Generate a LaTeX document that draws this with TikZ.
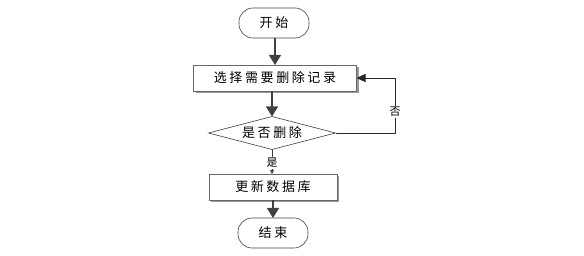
\documentclass[tikz,border=0pt]{standalone}
\usepackage{fontspec}
\newfontfamily\cjk[LetterSpace=20]{Noto Sans CJK SC}
\newfontfamily\cjksmall{Noto Sans CJK SC}
\usetikzlibrary{shapes.geometric,arrows.meta,shadows}
\begin{document}
\begin{tikzpicture}[x=1pt,y=-1pt,
  every node/.style={inner sep=0pt,outer sep=0pt},
  term/.style={draw=black!75,line width=0.6pt,rounded corners=14pt,minimum width=70pt,minimum height=30pt,font=\cjk\fontsize{13pt}{13pt}\selectfont},
  procbox/.style={draw=black!60,line width=0.6pt,fill=white,minimum height=26pt,font=\cjk\fontsize{13pt}{13pt}\selectfont,
    drop shadow={shadow xshift=2pt,shadow yshift=-2pt,fill=black!40,opacity=1}},
  decbox/.style={draw=black!75,line width=0.6pt,diamond,aspect=3.9,minimum width=127pt,minimum height=33pt,font=\cjk\fontsize{13pt}{13pt}\selectfont},
  bigarrow/.style={draw=black!75,line width=1.5pt,-{Triangle[length=10pt,width=12pt]}},
  thinarrow/.style={draw=black!75,line width=0.6pt,-{Triangle[length=4pt,width=4pt]}},
  backarrow/.style={draw=black!85,line width=0.8pt,-{Triangle[length=9pt,width=8pt]}},
  lbl/.style={font=\cjksmall\fontsize{11pt}{11pt}\selectfont,fill=white,inner sep=1pt}
]
\useasboundingbox (0,0) rectangle (584,256);
\node[term] (start) at (274,23) {开始};
\node[procbox,minimum width=163pt] (sel) at (275,78) {选择需要删除记录};
\node[decbox] (dec) at (272,133) {是否删除};
\node[procbox,minimum width=128pt] (upd) at (273,187) {更新数据库};
\node[term] (end) at (273,233) {结束};
\coordinate (c1) at (395,133);
\coordinate (c2) at (395,78);
\draw[bigarrow] (start.south -| sel.north) -- (sel.north);
\draw[bigarrow] (sel.south -| dec.north) -- (dec.north);
\draw[thinarrow] (dec.south) -- node[lbl,pos=0.55] (yes) {是} (dec.south |- upd.north);
\draw[bigarrow] (upd.south) -- (end.north -| upd.south);
\draw[backarrow] (dec.east) -- (c1) -- node[lbl,pos=0.38] (no) {否} (c2) -- (sel.east);
\end{tikzpicture}
\end{document}
